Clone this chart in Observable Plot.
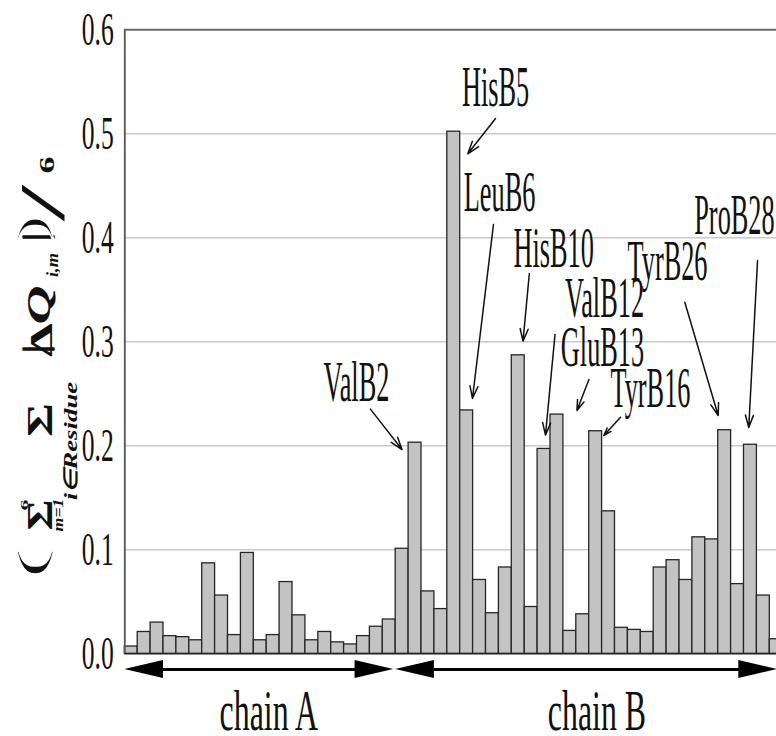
<!DOCTYPE html>
<html><head><meta charset="utf-8">
<script src="https://cdn.jsdelivr.net/npm/d3@7"></script>
<script src="https://cdn.jsdelivr.net/npm/@observablehq/plot@0.6"></script>
<style>html,body{margin:0;padding:0;background:#fff;overflow:hidden;} svg{display:block}</style>
</head><body><script>
// ---------- data ----------
const chainA = ["Gly","Ile","Val","Glu","Gln","Cys","Cys","Thr","Ser","Ile","Cys","Ser","Leu","Tyr","Gln","Leu","Glu","Asn","Tyr","Cys","Asn"];
const chainB = ["Phe","Val","Asn","Gln","His","Leu","Cys","Gly","Ser","His","Leu","Val","Glu","Ala","Leu","Tyr","Leu","Val","Cys","Gly","Glu","Arg","Gly","Phe","Phe","Tyr","Thr","Pro","Lys","Thr"];
const valuesA = [0.007,0.021,0.030,0.017,0.016,0.013,0.087,0.056,0.018,0.097,0.013,0.018,0.069,0.037,0.013,0.021,0.011,0.009,0.017,0.026,0.033];
const valuesB = [0.101,0.203,0.060,0.043,0.502,0.234,0.071,0.039,0.083,0.287,0.045,0.197,0.230,0.022,0.038,0.214,0.137,0.025,0.023,0.021,0.083,0.090,0.071,0.112,0.110,0.215,0.067,0.201,0.056,0.014];
const yTicks = [0, 0.1, 0.2, 0.3, 0.4, 0.5, 0.6];
const gridValues = [0.1, 0.2, 0.3, 0.4, 0.5];

// annotations (x in residue-index units, y in value units)
const annLabels = ["ValB2","HisB5","LeuB6","HisB10","ValB12","GluB13","TyrB16","TyrB26","ProB28"];
const annTextX  = [17.96, 28.74, 29.05, 33.24, 37.19, 37.03, 40.75, 42.07, 47.26];
const annTextY  = [0.2426, 0.527, 0.426, 0.3715, 0.324, 0.277, 0.237, 0.359, 0.404];
const annFromX  = [19.04, 28.74, 28.58, 31.36, 33.35, 35.98, 38.43, 43.41, 49.05];
const annFromY  = [0.2353, 0.5147, 0.4128, 0.3657, 0.307, 0.2638, 0.2275, 0.3381, 0.3782];
const annToX    = [21.49, 26.59, 26.95, 30.87, 32.61, 35.05, 37.13, 46.0, 48.37];
const annToY    = [0.1964, 0.4808, 0.2455, 0.3006, 0.2103, 0.2339, 0.2099, 0.2291, 0.2176];

// chain spans
const chainNames  = ["chain A", "chain B"];
const chainStart  = [0, 21];
const chainEnd    = [20.85, 50.6];
const chainArrowY = -0.0151;
const chainLabelX = [11.16, 36.6];
const chainLabelY = -0.0737;

// y-axis title pieces: text, bold, italic
const titleText   = ["(", "Σ", "6", "m=1", "Σ", "i∈Residue", "|", "Δ", "Q", "i,m", "|", ")", "/", "6"];
const titleBold   = [false, true, true, true, true, true, false, true, true, true, false, false, false, true];
const titleItalic = [false, false, false, true, false, true, false, false, true, true, false, false, false, false];

// ---------- build ----------
const FONT = "Liberation Serif, Times New Roman, serif";
const bars = [
  ...chainA.map((r, i) => ({residue: r + "A" + (i + 1), i, v: valuesA[i]})),
  ...chainB.map((r, i) => ({residue: r + "B" + (i + 1), i: chainA.length + i, v: valuesB[i]}))
];
const nRes = bars.length;
const ann = annLabels.map((t, k) => ({t, x: annTextX[k], y: annTextY[k], x1: annFromX[k], y1: annFromY[k], x2: annToX[k], y2: annToY[k]}));
const chains = chainNames.map((n, k) => ({n, s: chainStart[k], e: chainEnd[k], lx: chainLabelX[k]}));
const headLen = 3.0, headHalf = 0.0087;
const heads = chains.flatMap(c => [
  {z: c.n + "L", x: c.s, y1: chainArrowY, y2: chainArrowY},
  {z: c.n + "L", x: c.s + headLen, y1: chainArrowY - headHalf, y2: chainArrowY + headHalf},
  {z: c.n + "R", x: c.e, y1: chainArrowY, y2: chainArrowY},
  {z: c.n + "R", x: c.e - headLen, y1: chainArrowY - headHalf, y2: chainArrowY + headHalf}
]);

const chart = Plot.plot({
  width: 776,
  height: 736,
  marginTop: 29.3,
  marginBottom: 82.7,
  marginLeft: 124.3,
  marginRight: 0,
  style: {fontFamily: FONT, background: "white"},
  x: {domain: [0, nRes], range: [124.3, 782.2], axis: null},
  y: {domain: [0, 0.6], range: [653.3, 29.3], label: null},
  marks: [
    Plot.ruleY(gridValues, {x1: 0, x2: nRes, stroke: "#c9c9c9", strokeWidth: 1.6}),
    Plot.axisY({ticks: yTicks, tickFormat: d => d.toFixed(1), tickSize: 0, tickPadding: 11, fontSize: 46, fontFamily: FONT, label: null, fill: "#111"}),
    Plot.rectY(bars, {x1: "i", x2: d => d.i + 1, y: "v", fill: "#c3c3c3", stroke: "#262626", strokeWidth: 1.3}),
    Plot.ruleY([0.6], {x1: 0, x2: nRes, stroke: "#6a6a6a", strokeWidth: 2}),
    Plot.ruleX([0], {y1: 0, y2: 0.6, stroke: "#555", strokeWidth: 1.8}),
    Plot.ruleY([0], {x1: 0, x2: nRes, stroke: "#222", strokeWidth: 1.6}),
    Plot.arrow(ann, {x1: "x1", y1: "y1", x2: "x2", y2: "y2", stroke: "#111", strokeWidth: 1.5, headLength: 13, headAngle: 36}),
    Plot.text(ann, {x: "x", y: "y", text: "t", fontSize: 56, fontFamily: FONT, lineAnchor: "bottom", fill: "#111"}),
    Plot.link(chains, {x1: d => d.s + 1, x2: d => d.e - 1, y1: chainArrowY, y2: chainArrowY, stroke: "#000", strokeWidth: 3}),
    Plot.areaY(heads, {x: "x", y1: "y1", y2: "y2", z: "z", fill: "#000", curve: "linear"}),
    Plot.text(chains, {x: "lx", y: chainLabelY, text: "n", fontSize: 58, fontFamily: FONT, lineAnchor: "bottom", fill: "#111"})
  ]
});
document.body.append(chart);

// horizontally condensed lettering (as in the reference)
const squish = {46: 0.556, 56: 0.47, 58: 0.55};
chart.querySelectorAll("text").forEach(t => {
  const fs = parseFloat(getComputedStyle(t).fontSize);
  const f = squish[Math.round(fs)];
  if (!f) return;
  const L = t.getComputedTextLength();
  t.setAttribute("textLength", (L * f).toFixed(2));
  t.setAttribute("lengthAdjust", "spacingAndGlyphs");
});

// rotated y-axis title: each piece sized so its advance fills its span along the text,
// then condensed across (screen px boxes: x0, x1 across; yTop, yBottom along)
(function drawTitle() {
  const ink = [[-0.694,0.215],[-0.662,0],[-0.676,0],[-0.676,0],[-0.662,0],[-0.683,0],[-0.76,0.24],[-0.676,0],[-0.676,0.2],[-0.68,0.14],[-0.76,0.24],[-0.694,0.215],[-0.694,0.018],[-0.676,0]];
  const box = [[18,54,532,563],[28,52,484,515],[21,28,494,505],[53,63,482,515],[28,52,386,420],[64,77,322,441],
               [22,55,341,349],[31,52,306,340],[28,57,266,305],[46,60,241,265],[22,55,229,237],[18,54,202,228],
               [20,65,166,203],[40,54,148,165]];
  // outline tweaks: thin the big parentheses, thicken the bars
  const edge = {"(": ["white", 2.2], ")": ["white", 2.2], "|": ["#111", 1.6]};
  const g = d3.select(chart).append("g").attr("font-family", FONT).attr("fill", "#111");
  titleText.forEach((t, k) => {
    const el = g.append("text").attr("x", 0).attr("y", 0).attr("font-size", 40)
      .attr("font-weight", titleBold[k] ? "bold" : "normal")
      .attr("font-style", titleItalic[k] ? "italic" : "normal").text(t);
    const [top, bot] = ink[k];
    const [x0, x1, yT, yB] = box[k];
    const F = 40 * (yB - yT) / el.node().getComputedTextLength();
    el.attr("font-size", F.toFixed(2));
    const sx = (x1 - x0) / ((bot - top) * F);
    el.attr("transform", `matrix(0,-1,${sx},0,${x0 - top * F * sx},${yB})`);
    if (edge[t]) el.attr("stroke", edge[t][0]).attr("stroke-width", edge[t][1]).attr("stroke-linejoin", "round");
  });
})();
</script></body></html>
